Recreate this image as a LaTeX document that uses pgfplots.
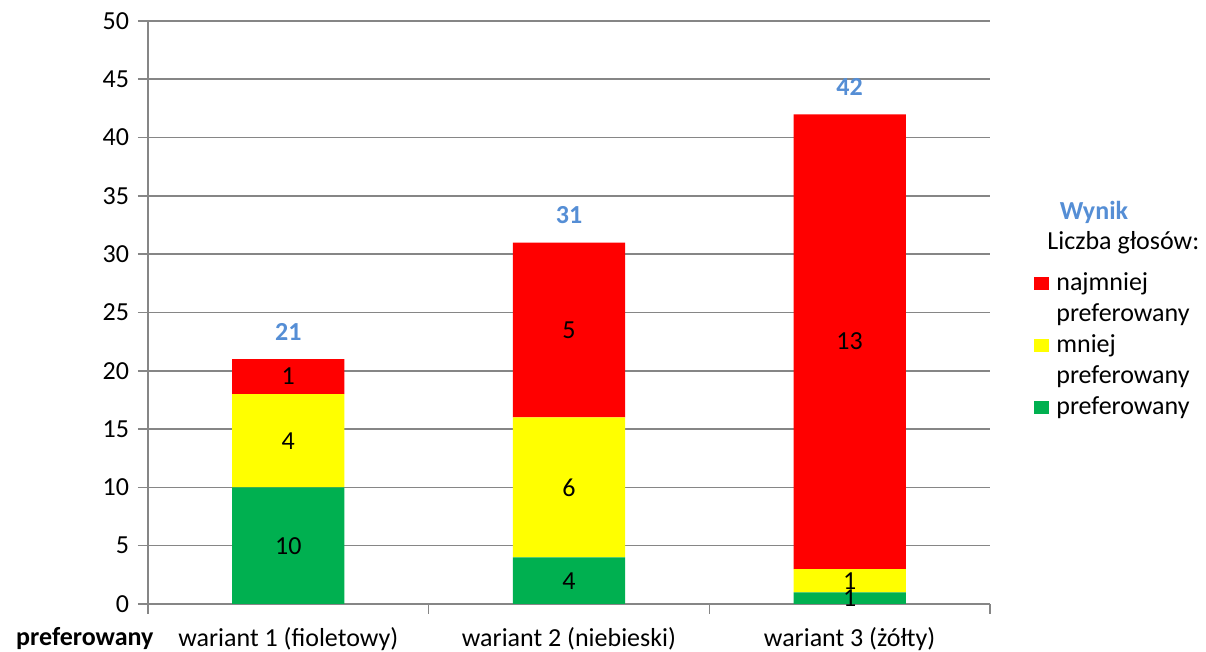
\documentclass[border=0pt]{standalone}
\usepackage{pgfplots}
\pgfplotsset{compat=1.18}
\usepackage{pgfplotstable}
\usepackage{fontspec}
\setmainfont{Carlito}

\definecolor{barred}{HTML}{FF0000}
\definecolor{baryellow}{HTML}{FFFF00}
\definecolor{bargreen}{HTML}{00B050}
\definecolor{gridgray}{HTML}{868686}
\definecolor{totalblue}{HTML}{558ED5}

% h = bar height (votes x weight 1/2/3), n = number of votes shown
\pgfplotstableread{
x h n
0 10 10
1 4 4
2 1 1
}\pref
\pgfplotstableread{
x h n
0 8 4
1 12 6
2 2 1
}\mniej
\pgfplotstableread{
x h n
0 3 1
1 15 5
2 39 13
}\najm
% label positions (middle of each segment)
\pgfplotstableread{
x y n
0 5 10
1 2 4
2 0.5 1
0 14 4
1 10 6
2 2 1
0 19.5 1
1 23.5 5
2 22.5 13
}\labels
\pgfplotstableread{
x y
0 21
1 31
2 42
}\totals

\begin{document}
\fontsize{13}{15.5}\selectfont
\begin{tikzpicture}
\useasboundingbox (-74pt,-24pt) rectangle (529pt,302pt);
\begin{axis}[
  scale only axis, width=421pt, height=291.5pt,
  xmin=-0.5, xmax=2.5, ymin=0, ymax=50,
  ybar stacked, bar width=0.4, clip=false,
  axis x line*=bottom, axis y line*=left,
  axis line style={gridgray, line width=0.8pt},
  ytick={0,5,...,50},
  ymajorgrids, grid style={gridgray, line width=0.8pt},
  xtick={0,1,2},
  xticklabels={wariant 1 (fioletowy), wariant 2 (niebieski), wariant 3 (żółty)},
  xticklabel style={yshift=-2pt},
  x tick style={draw=none},
  extra x ticks={-0.5,0.5,1.5,2.5}, extra x tick labels={},
  extra x tick style={x tick style={draw=gridgray, line width=0.8pt}, grid=none},
  y tick style={gridgray, line width=0.8pt},
  tick align=outside, major tick length=5pt,
  /pgf/number format/assume math mode=true,
]
\addplot[fill=bargreen, draw=none] table[x=x, y=h] {\pref};
\addplot[fill=baryellow, draw=none] table[x=x, y=h] {\mniej};
\addplot[fill=barred, draw=none] table[x=x, y=h] {\najm};
\node[font=\bfseries\fontsize{13}{15.5}\selectfont, anchor=base] at (axis description cs:-0.075,-0.072) {preferowany};
\end{axis}

\begin{axis}[
  scale only axis, width=421pt, height=291.5pt,
  xmin=-0.5, xmax=2.5, ymin=0, ymax=50,
  hide axis, clip=false,
  legend style={at={(rel axis cs:1.0522,0.5763)}, anchor=north west,
    draw=none, fill=none, inner sep=0pt, row sep=0pt, column sep=3.5pt,
    nodes={inner sep=0pt, text height=11pt, text depth=4.5pt}},
  legend cell align=left,
  legend image code/.code={\path[#1] (0pt,-3pt) rectangle (7.5pt,3.5pt);},
]
\addplot[forget plot, draw=none, mark=none, nodes near coords, point meta=explicit symbolic,
  every node near coord/.append style={anchor=center, text=black}]
  table[x=x, y=y, meta=n] {\labels};
\addplot[forget plot, draw=none, mark=none, nodes near coords, point meta=explicit symbolic,
  every node near coord/.append style={anchor=center, yshift=13.5pt, text=totalblue, font=\bfseries\fontsize{13}{15.5}\selectfont}]
  table[x=x, y=y, meta=y] {\totals};
\node[anchor=center, text=totalblue, font=\bfseries\fontsize{13}{15.5}\selectfont] at (rel axis cs:1.1235,0.672) {Wynik};
\node[anchor=west, inner sep=0pt] at (rel axis cs:1.0677,0.619) {Liczba głosów:};
\addlegendimage{fill=barred, draw=none}\addlegendentry{najmniej}
\addlegendimage{fill=none, draw=none}\addlegendentry{preferowany}
\addlegendimage{fill=baryellow, draw=none}\addlegendentry{mniej}
\addlegendimage{fill=none, draw=none}\addlegendentry{preferowany}
\addlegendimage{fill=bargreen, draw=none}\addlegendentry{preferowany}
\end{axis}
\end{tikzpicture}
\end{document}
